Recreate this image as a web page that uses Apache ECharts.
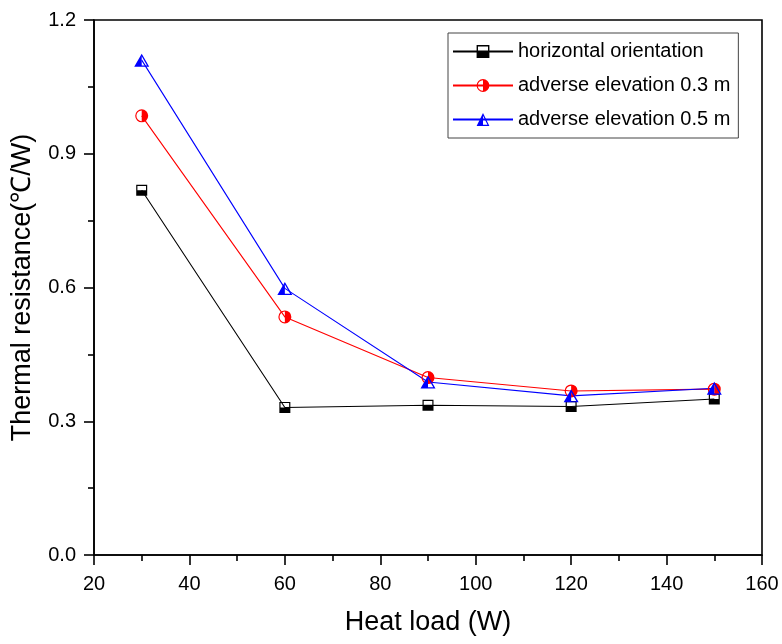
<!DOCTYPE html>
<html>
<head>
<meta charset="utf-8">
<script src="https://cdn.jsdelivr.net/npm/echarts@6/dist/echarts.min.js"></script>
<style>html,body{margin:0;padding:0;background:#fff}#c{width:782px;height:644px}</style>
</head>
<body>
<div id="c"></div>
<script>
const heatLoad = [30, 60, 90, 120, 150];
const horizontal = [0.818, 0.331, 0.336, 0.333, 0.350];
const elev03 = [0.985, 0.534, 0.398, 0.368, 0.372];
const elev05 = [1.110, 0.598, 0.388, 0.357, 0.374];
const seriesNames = ['horizontal orientation', 'adverse elevation 0.3 m', 'adverse elevation 0.5 m'];
const xTicks = [20, 40, 60, 80, 100, 120, 140, 160];
const yTicks = [0.0, 0.3, 0.6, 0.9, 1.2];

// half-filled symbols: outline ring + filled half (nonzero winding)
const symSquare = 'path://M0 0L12 0L12 12L0 12Z M1.3 1.3L1.3 10.7L10.7 10.7L10.7 1.3Z M1.3 6L10.7 6L10.7 10.7L1.3 10.7Z';
const symCircle = 'path://M6 0A6 6 0 1 1 6 12A6 6 0 1 1 6 0Z M6 1.1A4.9 4.9 0 1 0 6 10.9A4.9 4.9 0 1 0 6 1.1Z M6 1.1A4.9 4.9 0 0 1 6 10.9L6 1.1Z';
const symTri = 'path://M6 0L12 11L0 11Z M6 2.3L1.8 10L10.2 10Z M6 2.3L6 10L1.8 10Z';

const pairs = (ys) => heatLoad.map((x, i) => [x, ys[i]]);

const chart = echarts.init(document.getElementById('c'), null, {renderer: 'canvas'});
const font = 'Liberation Sans, Arial, sans-serif';

function mk(name, data, color, symbol, size) {
  return {
    name: name, type: 'line', data: pairs(data),
    symbol: symbol, symbolSize: size, showSymbol: true,
    lineStyle: {color: color, width: 1.1},
    itemStyle: {color: color, borderWidth: 0},
    emphasis: {disabled: true},
    animation: false
  };
}

chart.setOption({
  backgroundColor: '#fff',
  animation: false,
  textStyle: {fontFamily: font},
  grid: {left: 94, right: 20, top: 20, bottom: 89, show: true, borderColor: '#000', borderWidth: 1.6, containLabel: false},
  legend: {
    orient: 'vertical', left: 448, top: 33,
    itemWidth: 60, itemHeight: 16, itemGap: 13,
    padding: [8, 8, 8, 4],
    borderColor: '#444', borderWidth: 1,
    textStyle: {fontSize: 20, color: '#000', fontFamily: font, lineHeight: 21},
    data: seriesNames
  },
  xAxis: {
    type: 'value', min: xTicks[0], max: xTicks[xTicks.length - 1], interval: 20,
    name: 'Heat load (W)', nameLocation: 'middle', nameGap: 54,
    nameTextStyle: {fontSize: 27, color: '#000', fontFamily: font},
    axisLine: {show: true, lineStyle: {color: '#000', width: 1.6}},
    axisTick: {show: true, length: 10, lineStyle: {color: '#000', width: 1.6}},
    minorTick: {show: true, splitNumber: 2, length: 6, lineStyle: {color: '#000', width: 1.6}},
    axisLabel: {fontSize: 20, color: '#000', margin: 19, fontFamily: font},
    splitLine: {show: false}
  },
  yAxis: {
    type: 'value', min: yTicks[0], max: yTicks[yTicks.length - 1], interval: 0.3,
    name: 'Thermal resistance(℃/W)', nameLocation: 'middle', nameGap: 58,
    nameTextStyle: {fontSize: 27, color: '#000', fontFamily: font},
    axisLine: {show: true, lineStyle: {color: '#000', width: 1.6}},
    axisTick: {show: true, length: 10, lineStyle: {color: '#000', width: 1.6}},
    minorTick: {show: true, splitNumber: 2, length: 6, lineStyle: {color: '#000', width: 1.6}},
    axisLabel: {fontSize: 20, color: '#000', margin: 18, fontFamily: font, formatter: v => v.toFixed(1)},
    splitLine: {show: false}
  },
  series: [
    mk(seriesNames[0], horizontal, '#000000', symSquare, [11, 11]),
    mk(seriesNames[1], elev03, '#ff0000', symCircle, [13, 13]),
    mk(seriesNames[2], elev05, '#0000ff', symTri, [15, 13])
  ]
});
</script>
</body>
</html>
